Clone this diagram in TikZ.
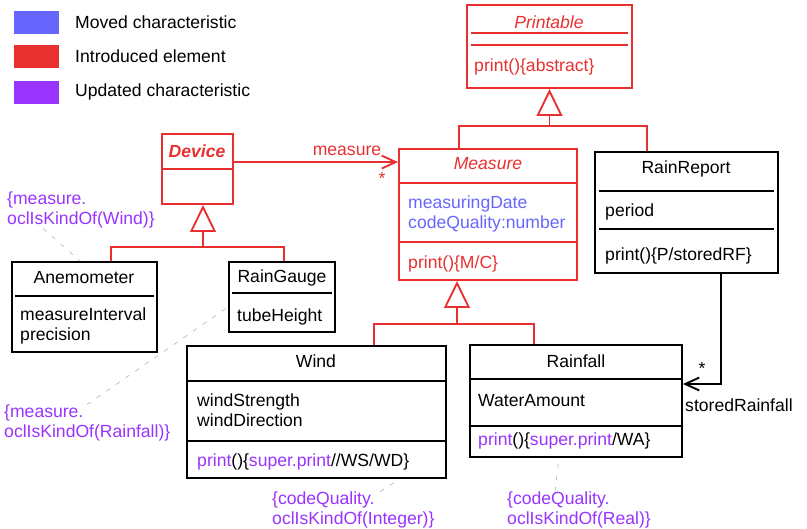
\documentclass[tikz,border=0pt]{standalone}
\usepackage{fontspec}
\setmainfont{Liberation Sans}
\usetikzlibrary{arrows.meta}
\usetikzlibrary{calc}
\usetikzlibrary{fit}

\definecolor{introred}{RGB}{232,48,48}
\definecolor{movedblue}{RGB}{102,102,255}
\definecolor{updpurple}{RGB}{153,51,255}

\tikzset{
  classbox/.style={draw, line width=1.6pt, inner sep=0pt},
  newbox/.style={classbox, draw=introred},
  txt/.style={inner sep=0pt, anchor=west, align=left},
  cname/.style={inner sep=0pt},
  divline/.style={line width=1.5pt},
  link/.style={line width=1.6pt},
  gen/.style={link, -{Triangle[open, length=23pt, width=22pt]}},
  assoc/.style={link, -{Straight Barb[length=12pt, width=11pt]}},
  note/.style={txt, text=updpurple},
  noteline/.style={gray!60, line width=0.5pt, dash pattern=on 4pt off 6pt},
}

\begin{document}
\begin{tikzpicture}[x=0.03cm, y=-0.03cm,
    execute at begin picture={\fontsize{15}{17}\selectfont}]
  \useasboundingbox (0,0) rectangle (807,529);

  % legend
  \fill[movedblue] (14,11) rectangle (59,34);
  \node[txt] (lgmoved) at (75,22) {Moved characteristic};
  \fill[introred] (14,45) rectangle (59,68);
  \node[txt] (lgintro) at (75,56) {Introduced element};
  \fill[updpurple] (14,81) rectangle (59,104);
  \node[txt] (lgupd) at (75,92) {Updated characteristic};

  % classes
  \node[newbox, fit={(467,5) (632,88)}] (printable) {};
  \draw[introred, divline] (471,33) -- (628,33);
  \draw[introred, divline] (471,45) -- (628,45);
  \node[cname, text=introred, font=\itshape] (printablename) at (549,22) {Printable};
  \node[txt, text=introred] (printableop) at (474,67) {print()\{abstract\}};

  \node[newbox, fit={(399,149) (577,280)}] (measure) {};
  \draw[introred, divline] (399,183) -- (577,183);
  \draw[introred, divline] (399,242) -- (577,242);
  \node[cname, text=introred, font=\itshape] (measurename) at (488,164) {Measure};
  \node[txt, text=movedblue] (measureattr) at (408,214) {measuringDate\\codeQuality:number};
  \node[txt, text=introred] (measureop) at (408,264) {print()\{M/C\}};

  \node[classbox, fit={(595,152) (778,273)}] (rainreport) {};
  \draw[divline] (599,191) -- (774,191);
  \draw[divline] (599,229) -- (774,229);
  \node[cname] (rainreportname) at (686,169) {RainReport};
  \node[txt] (rainreportattr) at (605,212) {period};
  \node[txt] (rainreportop) at (605,256) {print()\{P/storedRF\}};

  \node[newbox, fit={(162,134) (233,204)}] (device) {};
  \draw[introred, divline] (162,169) -- (233,169);
  \node[cname, text=introred, font=\bfseries\itshape] (devicename) at (197,151) {Device};

  \node[classbox, fit={(12,262) (157,352)}] (anemometer) {};
  \draw[divline] (15,296) -- (154,296);
  \node[cname] (anemometername) at (84,278) {Anemometer};
  \node[txt] (anemometerattr) at (20,326) {measureInterval\\precision};

  \node[classbox, fit={(229,262) (335,332)}] (raingauge) {};
  \draw[divline] (232,293) -- (332,293);
  \node[cname] (raingaugename) at (282,278) {RainGauge};
  \node[txt] (raingaugeattr) at (237,317) {tubeHeight};

  \node[classbox, fit={(187,346) (446,478)}] (wind) {};
  \draw[divline] (187,381) -- (446,381);
  \draw[divline] (187,441) -- (446,441);
  \node[cname] (windname) at (316,361) {Wind};
  \node[txt] (windattr) at (197,410) {windStrength\\windDirection};
  \node[txt] (windop) at (197,462)
    {\textcolor{updpurple}{print}()\{\textcolor{updpurple}{super.print}//WS/WD\}};

  \node[classbox, fit={(470,345) (682,457)}] (rainfall) {};
  \draw[divline] (470,379) -- (682,379);
  \draw[divline] (470,426) -- (682,426);
  \node[cname] (rainfallname) at (576,361) {Rainfall};
  \node[txt] (rainfallattr) at (478,401) {WaterAmount};
  \node[txt] (rainfallop) at (478,441)
    {\textcolor{updpurple}{print}()\{\textcolor{updpurple}{super.print}/WA\}};

  % generalizations
  \coordinate (j1) at (printable.south |- 0,126);
  \draw[gen, introred] (j1) -- (printable.south);
  \draw[link, introred] (measure.north -| 459,0) |- (j1) -| (rainreport.north -| 647,0);

  \coordinate (j2) at (457,324);
  \draw[gen, introred] (j2) -- (measure.south -| j2);
  \draw[link, introred] (wind.north -| 374,0) |- (j2) -| (rainfall.north -| 534,0);

  \coordinate (j3) at (203,247);
  \draw[gen, introred] (j3) -- (device.south -| j3);
  \draw[link, introred] (anemometer.north -| 111,0) |- (j3) -| (raingauge.north -| 284,0);

  % associations
  \coordinate (devout) at ($(device.north east)+(0,29)$);
  \draw[assoc, introred] (devout) -- (devout -| measure.west);
  \node[cname, text=introred] (measurelbl) at (347,151) {measure};
  \node[cname, text=introred] (measuremult) at (382,178) {*};

  \coordinate (rrout) at (rainreport.south -| 721,0);
  \draw[assoc] (rrout) |- (rainfall.east |- 0,384);
  \node[cname] (rfmult) at (702,368) {*};
  \node[txt] (rflbl) at (685,405) {storedRainfall};

  % constraints
  \node[note] (notewind) at (7,210) {\{measure.\\oclIsKindOf(Wind)\}};
  \node[note] (noterain) at (4,423) {\{measure.\\oclIsKindOf(Rainfall)\}};
  \node[note] (noteint) at (272,510) {\{codeQuality.\\oclIsKindOf(Integer)\}};
  \node[note] (notereal) at (507,510) {\{codeQuality.\\oclIsKindOf(Real)\}};

  \draw[noteline] (notewind.south -| 43,0) -- (anemometer.north -| 80,0);
  \draw[noteline] (noterain.north -| 87,0) -- (raingauge.west |- 0,307);
  \draw[noteline] (noteint.north -| 380,0) -- (wind.south -| 400,0);
  \draw[noteline] (notereal.north -| 555,0) -- (rainfall.south -| 559,0);
\end{tikzpicture}
\end{document}
